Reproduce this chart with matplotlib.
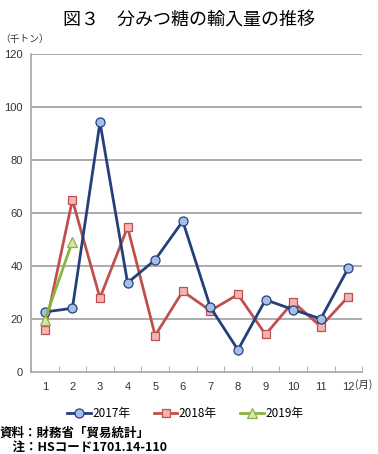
import matplotlib
matplotlib.use("Agg")
import matplotlib.pyplot as plt
import numpy as np

plt.rcParams['font.family'] = ['Noto Sans CJK JP', 'DejaVu Sans']

months = [1, 2, 3, 4, 5, 6, 7, 8, 9, 10, 11, 12]
month_labels = ["1", "2", "3", "4", "5", "6", "7", "8", "9", "10", "11", "12"]
y2017 = [22.6, 24.0, 94.2, 33.6, 42.3, 56.9, 24.4, 8.3, 27.2, 23.5, 20.0, 39.2]
y2018 = [15.8, 64.9, 27.9, 54.6, 13.7, 30.4, 23.1, 29.2, 14.1, 26.4, 17.1, 28.4]
y2019 = [19.5, 49.2]
yticks = [0, 20, 40, 60, 80, 100, 120]

fig = plt.figure(figsize=(3.78, 4.54), dpi=100)
ax = fig.add_axes([0.082, 0.181, 0.876, 0.700])

grid_c = "#A6A6A6"
for t in yticks[1:]:
    ax.axhline(t, color=grid_c, lw=1.3, zorder=0)

ax.plot(months, y2017, color="#253F7B", lw=2.0, marker="o", ms=6.5,
        mfc="#A7BFE8", mec="#253F7B", mew=0.9, label="2017年", zorder=3)
ax.plot(months, y2018, color="#C0504D", lw=2.0, marker="s", ms=6.0,
        mfc="#F2B5B3", mec="#C0504D", mew=0.9, label="2018年", zorder=2)
ax.plot(months[:len(y2019)], y2019, color="#8AB43C", lw=2.0, marker="^", ms=6.5,
        mfc="#D4E6B5", mec="#8AB43C", mew=0.9, label="2019年", zorder=4)

num_font = ['Liberation Sans', 'DejaVu Sans']
ax.set_xlim(0.5, 12.5)
ax.set_ylim(0, 120)
ax.set_yticks(yticks)
ax.set_yticklabels([str(t) for t in yticks], fontsize=8, color="#333333", family=num_font)
ax.tick_params(axis='y', length=0, pad=6)
ax.set_xticks(months)
ax.set_xticklabels(month_labels, fontsize=8, color="#333333", family=num_font)
ax.set_xticks(np.arange(0.5, 13, 1), minor=True)
ax.tick_params(axis='x', which='major', length=0, pad=7)
ax.tick_params(axis='x', which='minor', length=4, direction='in', color=grid_c)
for s in ["top", "right"]:
    ax.spines[s].set_visible(False)
ax.spines["left"].set_color(grid_c)
ax.spines["bottom"].set_color(grid_c)
ax.spines["left"].set_linewidth(1.2)
ax.spines["bottom"].set_linewidth(1.2)

fig.text(0.5, 0.955, "図３　分みつ糖の輸入量の推移", ha="center", va="center", fontsize=13)
fig.text(0.0, 0.915, "（千トン）", ha="left", va="center", fontsize=7, color="#333333")
fig.text(0.938, 0.152, "(月)", ha="left", va="center", fontsize=7.5, color="#333333")

leg = fig.legend(loc="center", bbox_to_anchor=(0.49, 0.09), ncol=3, frameon=False,
                 fontsize=8.5, handlelength=2.0, columnspacing=2.0, handletextpad=0.1)

fig.text(0.0, 0.046, "資料：財務省「貿易統計」", ha="left", va="center", fontsize=9, fontweight="bold")
fig.text(0.0, 0.012, "　注：HSコード1701.14-110", ha="left", va="center", fontsize=9, fontweight="bold")

fig.savefig("out.png", dpi=100)
